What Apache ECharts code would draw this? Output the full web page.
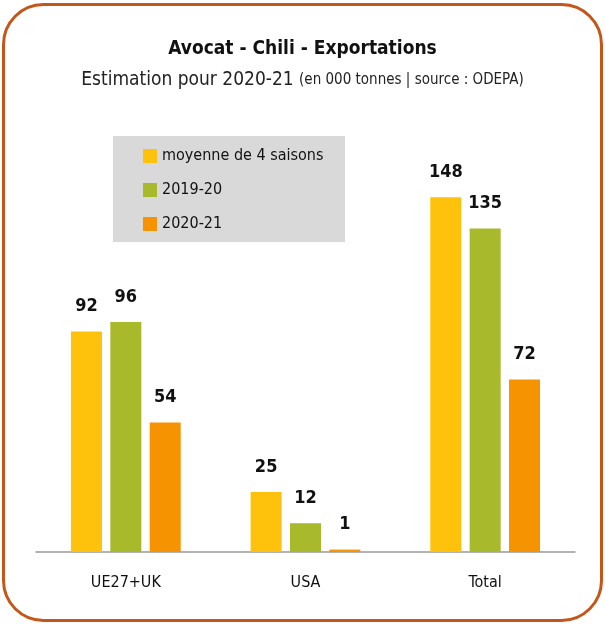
<!DOCTYPE html>
<html><head><meta charset="utf-8">
<script src="https://cdn.jsdelivr.net/npm/echarts@6/dist/echarts.min.js"></script>
<style>html,body{margin:0;padding:0;background:#fff}#c{width:605px;height:625px}</style>
</head><body><div id="c"></div>
<script>
const categories = ['UE27+UK', 'USA', 'Total'];
const seriesNames = ['moyenne de 4 saisons', '2019-20', '2020-21'];
const moyenne = [92, 25, 148];
const s2019 = [96, 12, 135];
const s2020 = [54, 1, 72];
const colors = ['#FEC20C', '#A8B92B', '#F59300'];
const FONT = '"Liberation Sans Narrow", "DejaVu Sans Condensed", "Roboto Condensed", sans-serif';

const chart = echarts.init(document.getElementById('c'));
const values = [moyenne, s2019, s2020];
chart.setOption({
  animation: false,
  textStyle: { fontFamily: FONT },
  title: [{
    text: 'Avocat - Chili - Exportations',
    left: 'center', top: 35,
    textStyle: { fontFamily: FONT, fontSize: 19, fontWeight: 'bold', color: '#111' }
  }, {
    text: '{a|Estimation pour 2020-21 }{b|(en 000 tonnes | source : ODEPA)}',
    left: 'center', top: 66,
    textStyle: {
      fontWeight: 'normal',
      rich: {
        a: { fontFamily: FONT, fontSize: 19, fontWeight: 'normal', color: '#222' },
        b: { fontFamily: FONT, fontSize: 15, fontWeight: 'normal', color: '#222' }
      }
    }
  }],
  graphic: [{
    type: 'rect', z: -1,
    shape: { x: 3.5, y: 4.5, width: 598, height: 616, r: 40 },
    style: { fill: 'none', stroke: '#C5561A', lineWidth: 3 }
  }, {
    type: 'rect', z: -1,
    shape: { x: 113, y: 136, width: 232, height: 106 },
    style: { fill: '#D9D9D9' }
  }],
  legend: {
    orient: 'vertical', left: 143, top: 148,
    itemWidth: 14, itemHeight: 14, itemGap: 18,
    icon: 'rect',
    padding: 0,
    textStyle: { fontFamily: FONT, fontSize: 16, color: '#111', lineHeight: 14 },
    data: seriesNames
  },
  grid: { left: 36, right: 30, top: 168.5, bottom: 73, containLabel: false },
  xAxis: {
    type: 'category', data: categories,
    axisLine: { lineStyle: { color: '#999', width: 1.5 } },
    axisTick: { show: false },
    axisLabel: { fontFamily: FONT, fontSize: 16, color: '#111', margin: 23 }
  },
  yAxis: {
    type: 'value', min: 0, max: 160, interval: 20,
    show: false, splitLine: { show: false }
  },
  series: seriesNames.map((n, i) => ({
    name: n, type: 'bar', data: values[i],
    barWidth: 31, barGap: '27%',
    itemStyle: { color: colors[i] },
    label: {
      show: true, position: 'top', distance: 16,
      fontFamily: FONT, fontSize: 18, fontWeight: 'bold', color: '#111'
    }
  }))
});
</script></body></html>
